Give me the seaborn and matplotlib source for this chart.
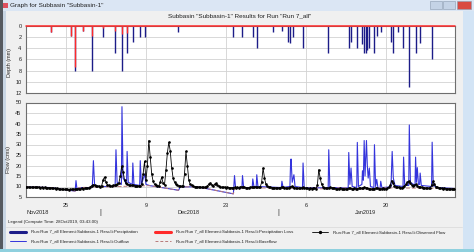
import numpy as np
import pandas as pd
import matplotlib
matplotlib.use("Agg")
import matplotlib.pyplot as plt
import matplotlib.dates as mdates
from matplotlib.lines import Line2D
from matplotlib.patches import Rectangle
from matplotlib.transforms import blended_transform_factory
import seaborn as sns

# ---------------- data (days after 18 Nov 2018) ----------------
start = pd.Timestamp("2018-11-18")

precip_day = [4.32, 7.9, 8.6, 9.9, 11.6, 13.5, 15.6, 16.75, 17.7, 18.7, 19.95, 20.9,
              26.6, 36.2, 37.9, 39.7, 40.4, 43.2, 44.75, 45.9, 46.2, 46.8, 48.5,
              52.9, 56.5, 56.9, 58.0, 58.9, 59.15, 59.5, 59.7, 60.1, 61.0, 61.4,
              62.1, 63.9, 64.3, 65.2, 66.0, 67.0, 68.2, 69.0, 71.0]
precip_mm = [1.1, 1.8, 8.0, 1.0, 8.0, 2.0, 4.9, 8.1, 4.9, 2.9, 2.0, 2.0,
             1.1, 2.0, 2.0, 2.0, 4.0, 1.1, 1.0, 2.9, 3.0, 2.0, 4.0,
             4.9, 4.0, 2.9, 4.0, 3.2, 4.9, 4.9, 4.4, 4.0, 4.9, 1.9,
             1.2, 2.9, 4.9, 1.1, 4.0, 11.0, 4.9, 3.0, 6.0]

loss_day = [4.32, 7.9, 8.6, 9.9, 11.6, 13.5, 15.6, 16.75, 17.7]
loss_mm = [1.1, 1.8, 7.3, 1.0, 1.8, 0.4, 1.0, 1.5, 1.3]

outflow_day = [0, 4.3, 8.6, 8.75, 8.95, 9.3, 11.6, 11.8, 12.0, 12.3, 15.6, 15.75, 15.95,
               16.7, 16.8, 17.0, 17.6, 17.7, 17.9, 18.6, 18.7, 18.9, 19.9, 20.0, 20.2,
               20.8, 21.0, 21.7, 26.7, 27.0, 29.9, 36.3, 36.5, 36.7, 37.8, 37.9, 38.1,
               39.6, 39.7, 39.9, 40.3, 40.4, 40.6, 44.7, 44.8, 45.0, 46.2, 46.3, 46.4,
               46.6, 46.9, 47.1, 48.4, 48.5, 48.7, 52.9, 53.0, 53.2, 56.4, 56.5, 56.7,
               56.9, 57.1, 57.9, 58.0, 58.2, 58.8, 58.9, 59.05, 59.2, 59.35, 59.6, 59.75,
               59.9, 60.1, 60.3, 60.9, 61.0, 61.2, 61.4, 61.6, 62.0, 62.1, 62.3, 63.9,
               64.0, 64.1, 64.3, 64.6, 66.0, 66.1, 66.3, 67.0, 67.1, 67.3, 68.1, 68.2,
               68.35, 68.5, 68.7, 68.9, 69.0, 69.2, 71.0, 71.1, 71.3, 72.0, 75.2]
outflow_cms = [9.8, 9.5, 7.8, 12.8, 8.2, 9.5, 9.5, 22.3, 11.0, 10.0, 10.0, 27.5, 12.0,
               11.0, 48.0, 14.0, 11.0, 26.7, 12.0, 11.0, 21.2, 11.0, 10.5, 22.3, 11.0,
               16.0, 11.0, 10.4, 8.2, 9.8, 9.9, 6.5, 15.2, 9.0, 9.5, 15.2, 9.5,
               9.5, 13.6, 10.0, 10.0, 15.6, 10.0, 9.5, 12.5, 9.6, 10.0, 19.6, 23.1,
               12.0, 15.6, 10.0, 9.5, 21.2, 9.5, 9.3, 27.5, 9.5, 9.3, 26.2, 11.0,
               18.8, 10.0, 9.5, 31.0, 10.0, 11.0, 17.5, 13.0, 31.9, 15.0, 31.9, 20.0,
               14.0, 18.8, 10.0, 9.5, 29.9, 10.0, 13.4, 9.5, 9.5, 12.5, 9.5, 9.8,
               18.8, 26.7, 14.0, 10.5, 10.0, 24.0, 10.5, 10.5, 39.3, 12.0, 10.5, 24.0,
               12.0, 19.0, 11.0, 11.0, 16.4, 10.5, 10.0, 31.1, 10.5, 9.5, 9.0]

baseflow_day = [0, 4.3, 8.6, 9.3, 21.7, 26.7, 27.0, 29.9, 36.3, 36.6, 51.4, 51.5, 52.9,
                53.2, 56.0, 56.1, 61.6, 61.8, 75.2]
baseflow_cms = [9.8, 9.5, 7.8, 9.5, 10.4, 8.2, 9.8, 9.9, 6.5, 9.3, 9.3, 8.9, 8.9,
                9.4, 9.3, 8.9, 8.9, 9.4, 9.0]

# observed flow, 6-hourly from 18 Nov 2018 00:00
observed_cms = [
    9.8, 9.7, 9.8, 9.6,  9.7, 9.8, 9.6, 9.7,  9.6, 9.7, 9.5, 9.6,  9.5, 9.6, 9.5, 9.4,
    9.5, 9.3, 9.4, 9.2,  9.1, 9.0, 9.1, 8.9,  8.8, 8.7, 8.8, 8.6,  8.7, 8.6, 8.5, 8.6,
    8.7, 8.6, 8.8, 8.7,  8.9, 9.0, 8.8, 9.1,  9.0, 9.2, 9.1, 9.3,  9.4, 9.8, 10.4, 10.9,
    10.6, 10.3, 10.1, 10.2,  10.0, 10.4, 13.2, 14.5,  12.0, 10.8, 10.5, 10.4,
    10.3, 10.5, 10.6, 10.8,  11.2, 11.5, 15.0, 19.6,  17.0, 13.0, 11.5, 11.0,
    10.8, 10.6, 10.5, 10.6,  10.4, 10.3, 10.4, 10.2,  10.3, 11.0, 16.0, 22.0,
    13.0, 20.0, 31.9, 24.0,  16.0, 12.5, 11.0, 10.6,  10.4, 10.3, 12.0, 14.5,
    11.5, 10.8, 18.0, 26.0,  31.0, 27.0, 19.0, 14.0,  12.0, 11.0, 10.5, 10.3,
    10.2, 10.1, 10.4, 16.0,  26.7, 20.0, 13.0, 11.0,  10.5, 10.2, 10.0, 9.9,
    9.8, 9.7, 9.8, 9.6,  9.7, 9.6, 9.8, 10.2,  11.2, 11.7, 10.8, 10.3,  11.0, 11.5, 10.6, 10.1,
    9.9, 9.7, 9.6, 9.7,  9.5, 9.6, 9.5, 9.4,  9.5, 9.4, 9.6, 9.5,  9.6, 9.5, 9.8, 9.9,
    9.7, 9.6, 9.5, 9.4,  9.5, 9.6, 9.8, 9.6,  9.7, 9.9, 9.8, 9.6,  9.7, 12.0, 18.8, 14.0,
    11.0, 10.2, 9.8, 9.6,  9.5, 9.4, 9.5, 9.3,  9.4, 9.3, 9.5, 9.8,  9.6, 9.4, 9.3, 9.2,
    9.4, 9.8, 10.1, 9.7,  9.5, 9.3, 9.2, 9.1,  9.2, 9.4, 9.6, 9.3,  9.2, 9.1, 9.0, 9.1,
    9.0, 9.1, 9.2, 9.0,  10.5, 18.0, 14.0, 11.0,  9.8, 9.5, 9.3, 9.2,  9.4, 9.6, 9.3, 9.2,
    9.1, 9.0, 8.9, 9.0,  9.1, 8.9, 9.0, 8.8,  8.9, 9.0, 9.3, 9.1,  9.0, 8.9, 9.1, 8.9,
    9.0, 9.2, 9.4, 9.1,  9.3, 9.6, 9.4, 9.2,  9.0, 8.9, 8.8, 8.9,  9.0, 9.3, 9.1, 9.0,
    8.9, 9.0, 9.1, 8.9,  9.0, 9.2, 9.6, 10.5,  12.8, 11.5, 10.4, 10.0,  9.8, 9.6, 9.5, 9.4,
    9.6, 10.2, 11.0, 12.0,  12.5, 11.5, 10.8, 10.3,  10.5, 11.0, 10.4, 10.0,
    9.8, 9.7, 9.5, 9.4,  9.3, 9.4, 9.2, 9.3,  10.5, 12.5, 11.0, 10.0,
    9.6, 9.4, 9.2, 9.1,  9.0, 9.1, 8.9, 9.0,  8.9, 9.0, 8.8, 8.9,  8.9]

tick_dates = ["2018-11-25", "2018-12-09", "2018-12-23", "2019-01-06", "2019-01-20"]
tick_labels = ["25", "9", "23", "6", "20"]
month_labels = ["Nov2018", "Dec2018", "Jan2019"]
legend_labels = [
    "Run:Run 7_all Element:Subbasin-1 Result:Precipitation",
    "Run:Run 7_all Element:Subbasin-1 Result:Precipitation Loss",
    "Run:Run 7_all Element:Subbasin-1 Result:Observed Flow",
    "Run:Run 7_all Element:Subbasin-1 Result:Outflow",
    "Run:Run 7_all Element:Subbasin-1 Result:Baseflow",
]

# ---------------- helpers ----------------
def to_time(days):
    return start + pd.to_timedelta(np.asarray(days, dtype=float), unit="D")

W, H = 474, 252
def fx(x):
    return x / W
def fy(y):
    return 1 - y / H

sns.set_style("white")
plt.rcParams["font.family"] = ["Liberation Sans", "DejaVu Sans"]

C_PREC = "#1c1c88"
C_LOSS = "#ff2a2a"
C_OUT = "#3434dc"
C_BASE = "#b87a7a"
C_OBS = "black"
C_GRID = "#d2d2d2"
C_FRAME = "#6e6e6e"

fig = plt.figure(figsize=(W / 100, H / 100), dpi=100)
fig.patch.set_facecolor("#f0f0f0")

# window chrome
fig.add_artist(Rectangle((0, fy(11)), 1, 11 / H, transform=fig.transFigure,
                         facecolor="#dbe6f4", edgecolor="none", zorder=0))
fig.add_artist(Rectangle((0, 0), fx(2.5), 1, transform=fig.transFigure,
                         facecolor="#565a60", edgecolor="none", zorder=0))
fig.add_artist(Rectangle((fx(2.5), 0), fx(3.5), fy(11), transform=fig.transFigure,
                         facecolor="#c9d6e4", edgecolor="none", zorder=0))
fig.add_artist(Rectangle((fx(463), 0), fx(11), fy(11), transform=fig.transFigure,
                         facecolor="#d3e4f5", edgecolor="none", zorder=0))
fig.add_artist(Rectangle((0, 0), 1, 3.5 / H, transform=fig.transFigure,
                         facecolor="#8fd0de", edgecolor="none", zorder=0))
for x0_, x1_, col in [(430, 442, "#c4d3e6"), (443, 455, "#c4d3e6"), (457, 471, "#d94a42")]:
    fig.add_artist(Rectangle((fx(x0_), fy(9)), fx(x1_ - x0_), 8 / H, transform=fig.transFigure,
                             facecolor=col, edgecolor="#8a9bb0", linewidth=0.4, zorder=1))
fig.add_artist(Rectangle((fx(3), fy(8)), fx(5), 5 / H, transform=fig.transFigure,
                         facecolor="#e05060", edgecolor="none", zorder=1))
fig.text(fx(10), fy(5.5), 'Graph for Subbasin "Subbasin-1"', fontsize=4.6,
         va="center", ha="left", color="#202020")

fig.text(fx(240), fy(16), 'Subbasin "Subbasin-1" Results for Run "Run 7_all"',
         fontsize=4.6, ha="center", va="center", color="#202020")

# axes
ax1 = fig.add_axes([fx(26), fy(93), fx(455 - 26), (93 - 25.7) / H])
ax2 = fig.add_axes([fx(26), fy(197), fx(455 - 26), (197 - 102.5) / H])

x0 = start
x1 = to_time([75.1])[0]
tick_pos = pd.to_datetime(tick_dates)

for ax in (ax1, ax2):
    ax.set_facecolor("white")
    ax.set_xlim(x0, x1)
    ax.set_xticks(tick_pos)
    ax.grid(True, color=C_GRID, linewidth=0.6)
    ax.set_axisbelow(True)
    for s in ax.spines.values():
        s.set_color(C_FRAME)
        s.set_linewidth(0.8)
    ax.tick_params(axis="both", direction="out", length=2, width=0.5, color="#404040",
                   labelsize=4.0, pad=1.2, labelcolor="#202020")

# ----- depth panel -----
ax1.vlines(to_time(precip_day), 0, precip_mm, color=C_PREC, linewidth=1.0)
ax1.vlines(to_time(loss_day), 0, loss_mm, color=C_LOSS, linewidth=1.0)
ax1.axhline(0, color=C_LOSS, linewidth=1.1, clip_on=False, zorder=5)
ax1.set_ylim(12, 0)
ax1.set_yticks([0, 2, 4, 6, 8, 10, 12])
ax1.set_xticklabels([])
ax1.set_xlabel("")
ax1.set_ylabel("Depth (mm)", fontsize=4.0, labelpad=2)
ax1.yaxis.set_label_coords(-0.033, 0.45)

# ----- flow panel -----
sns.lineplot(x=to_time(outflow_day), y=outflow_cms, ax=ax2, color=C_OUT,
             linewidth=0.8, estimator=None, zorder=3)
sns.lineplot(x=to_time(baseflow_day), y=baseflow_cms, ax=ax2, color=C_BASE,
             linewidth=0.7, linestyle=(0, (4, 2)), estimator=None, zorder=4)
obs_t = pd.date_range(start, periods=len(observed_cms), freq="6h")
sns.lineplot(x=obs_t, y=observed_cms, ax=ax2, color=C_OBS, linewidth=0.6,
             marker="o", markersize=1.9, markeredgewidth=0, estimator=None, zorder=5)
ax2.set_ylim(5, 50)
ax2.set_yticks(np.arange(5, 51, 5))
ax2.set_xlim(x0, x1)
ax2.set_xticks(tick_pos)
ax2.set_xticklabels(tick_labels)
ax2.set_xlabel("")
ax2.tick_params(axis="x", pad=2.5)
ax2.set_ylabel("Flow (cms)", fontsize=4.0)
ax2.yaxis.set_label_coords(-0.036, 0.4)

# month labels and separators
tr = blended_transform_factory(ax2.transData, fig.transFigure)
month_pos = [pd.Timestamp("2018-11-20"), pd.Timestamp("2018-12-16 12:00"),
             pd.Timestamp("2019-01-16 12:00")]
for p, lab in zip(month_pos, month_labels):
    ax2.text(mdates.date2num(p), fy(212.5), lab, transform=tr, fontsize=4.0,
             ha="center", va="center", color="#202020")
for p in [pd.Timestamp("2018-12-01"), pd.Timestamp("2019-01-01 06:00")]:
    ax2.text(mdates.date2num(p), fy(212.5), "|", transform=tr, fontsize=5.5,
             ha="center", va="center", color="#303030")

# legend
fig.text(fx(8), fy(222.5), "Legend (Compute Time: 28Oct2019, 03:43:00)", fontsize=3.2,
         ha="left", va="center", color="#202020")
fig.add_artist(Line2D([fx(6), fx(462)], [fy(226.5), fy(226.5)], transform=fig.transFigure,
                      color="#d8d8d8", linewidth=0.5))
entries = [
    (10, 232.3, dict(color=C_PREC, linewidth=2.2), legend_labels[0]),
    (155, 232.3, dict(color=C_LOSS, linewidth=2.2), legend_labels[1]),
    (312, 232.3, dict(color=C_OBS, linewidth=0.6, marker="o", markersize=1.4,
                      markevery=[1]), legend_labels[2]),
    (10, 241.3, dict(color=C_OUT, linewidth=0.7), legend_labels[3]),
    (155, 241.3, dict(color=C_BASE, linewidth=0.7, linestyle=(0, (3, 2))), legend_labels[4]),
]
for x, y, style, lab in entries:
    fig.add_artist(Line2D([fx(x), fx(x + 8), fx(x + 16)], [fy(y)] * 3,
                          transform=fig.transFigure, **style))
    fig.text(fx(x + 21), fy(y), lab, fontsize=3.2, ha="left", va="center", color="#202020")

fig.savefig("out.png", dpi=100, facecolor=fig.get_facecolor())
